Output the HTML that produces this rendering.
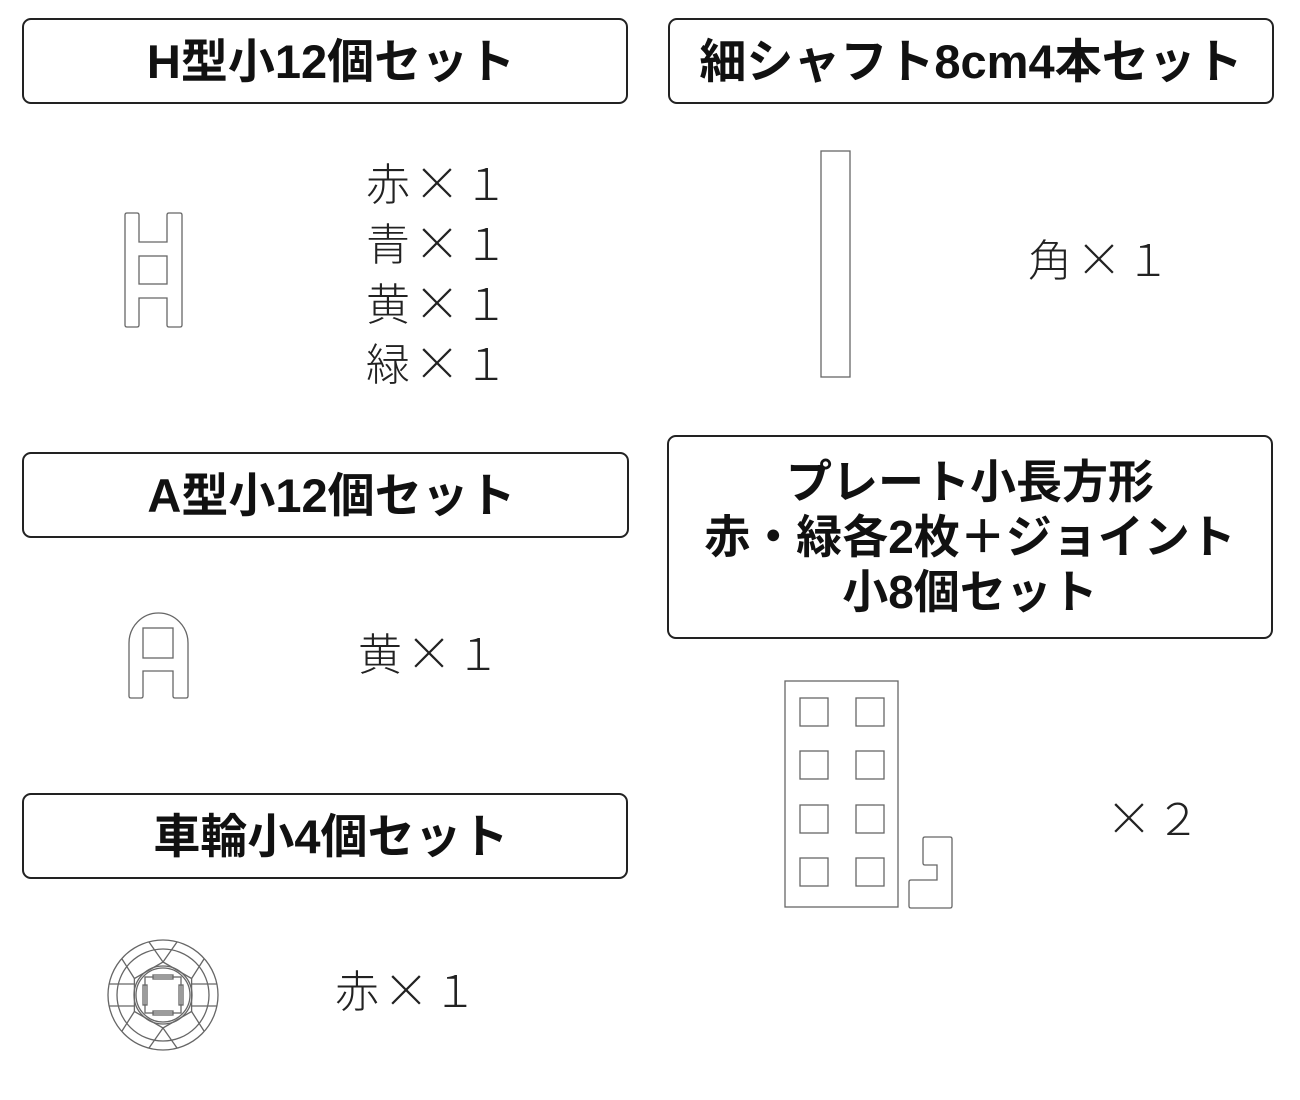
<!DOCTYPE html>
<html><head><meta charset="utf-8"><style>
body{margin:0;width:1300px;height:1100px;background:#fff;position:relative;font-family:"Liberation Sans","Noto Sans CJK JP",sans-serif;overflow:hidden}
.b{position:absolute;border:2px solid #222;border-radius:9px;box-sizing:border-box;display:flex;align-items:center;justify-content:center;text-align:center;font-weight:bold;font-size:47px;color:#111;line-height:55px}
.t{position:absolute;font-size:44px;color:#222;line-height:60px;font-weight:300;white-space:nowrap;font-family:"Noto Sans CJK JP",sans-serif}
.x{display:inline-block;font-size:46px;margin:0 4px 0 4px;font-weight:200}
svg{position:absolute;left:0;top:0}
</style></head><body>
<div class="b" style="left:22px;top:18px;width:606px;height:86px;padding-left:12px">H型小12個セット</div>
<div class="b" style="left:668px;top:18px;width:606px;height:86px">細シャフト8cm4本セット</div>
<div class="b" style="left:22px;top:452px;width:607px;height:86px;padding-left:12px">A型小12個セット</div>
<div class="b" style="left:22px;top:793px;width:606px;height:86px;padding-left:12px">車輪小4個セット</div>
<div class="b" style="left:667px;top:435px;width:606px;height:204px;font-size:46px">プレート小長方形<br>赤・緑各2枚＋ジョイント<br>小8個セット</div>
<div class="t" style="left:366px;top:151px">赤<span class="x">×</span>１<br>青<span class="x">×</span>１<br>黄<span class="x">×</span>１<br>緑<span class="x">×</span>１</div>
<div class="t" style="left:1028px;top:227px">角<span class="x">×</span>１</div>
<div class="t" style="left:358px;top:621px">黄<span class="x">×</span>１</div>
<div class="t" style="left:335px;top:958px">赤<span class="x">×</span>１</div>
<div class="t" style="left:1106px;top:786px"><span class="x" style="margin-left:0">×</span>２</div>
<svg width="1300" height="1100" fill="none" stroke="#666" stroke-width="1.3">
<path d="M125,215 Q125,213 127,213 H137 Q139,213 139,215 V242 H167 V215 Q167,213 169,213 H180 Q182,213 182,215 V325 Q182,327 180,327 H169 Q167,327 167,325 V298 H139 V325 Q139,327 137,327 H127 Q125,327 125,325 Z"/>
<rect x="139" y="256" width="28" height="28"/>
<rect x="821" y="151" width="29" height="226"/>
<path d="M129,643 A29.5,30 0 0 1 188,643 V696 Q188,698 186,698 H175 Q173,698 173,696 V671 H143 V696 Q143,698 141,698 H131 Q129,698 129,696 Z"/>
<rect x="143" y="628" width="30" height="30"/>
<rect x="785" y="681" width="113" height="226"/>
<g><rect x="800" y="698" width="28" height="28"/><rect x="856" y="698" width="28" height="28"/>
<rect x="800" y="751" width="28" height="28"/><rect x="856" y="751" width="28" height="28"/>
<rect x="800" y="805" width="28" height="28"/><rect x="856" y="805" width="28" height="28"/>
<rect x="800" y="858" width="28" height="28"/><rect x="856" y="858" width="28" height="28"/></g>
<path d="M925,837 H950 Q952,837 952,839 V906 Q952,908 950,908 H911 Q909,908 909,906 V882 Q909,880 911,880 H937 V865 H925 Q923,865 923,863 V839 Q923,837 925,837 Z"/>
<g transform="translate(163,995)">
<circle r="55"/><circle r="46"/>
<polygon points="0,-33 28.6,-16.5 28.6,16.5 0,33 -28.6,16.5 -28.6,-16.5"/>
<circle r="29"/><circle r="27"/>
<rect x="-18" y="-18" width="36" height="36"/>
<rect x="-10" y="-20" width="20" height="4"/><rect x="-10" y="16" width="20" height="4"/>
<rect x="-20" y="-10" width="4" height="20"/><rect x="16" y="-10" width="4" height="20"/>
<path d="M0,-33 L-14,-53 M0,-33 L14,-53 M0,33 L-14,53 M0,33 L14,53 M-28.6,-11 H-54 M-28.6,11 H-54 M28.6,-11 H54 M28.6,11 H54 M-28.6,-16.5 L-41,-36 M28.6,-16.5 L41,-36 M-28.6,16.5 L-41,36 M28.6,16.5 L41,36"/>
</g>
</svg>
</body></html>
